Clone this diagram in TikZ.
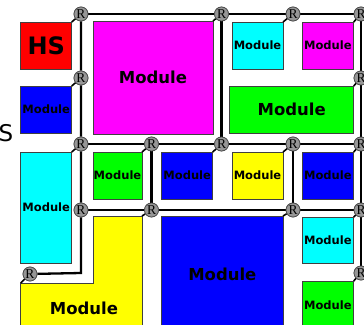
\documentclass[tikz,border=0pt]{standalone}
\usepackage{fontspec}
\setmainfont{DejaVu Sans}
\newfontfamily\routerfont{Liberation Serif}
\usepackage{xcolor}
\usepackage{tikz}

\definecolor{modred}{RGB}{255,0,0}
\definecolor{modblue}{RGB}{0,0,255}
\definecolor{modgreen}{RGB}{0,255,0}
\definecolor{modcyan}{RGB}{0,255,255}
\definecolor{modmagenta}{RGB}{255,0,255}
\definecolor{modyellow}{RGB}{255,255,0}
\definecolor{routergray}{RGB}{150,150,150}

\begin{document}
\begin{tikzpicture}[
    x=1pt, y=-1pt,
    module/.style={draw=black!75, line width=0.8pt, inner sep=0pt, outer sep=0pt, align=center, font=\fontsize{11.5}{12}\selectfont\bfseries},
    bigmodule/.style={module, font=\fontsize{16.5}{18}\selectfont\bfseries},
    router/.style={circle, draw=black!70, fill=routergray, line width=0.7pt, minimum size=14pt, inner sep=0pt, font=\routerfont\fontsize{13.5}{13.5}\selectfont},
    wire/.style={line width=2.3pt, black},
    stub/.style={line width=1.6pt, black}
]
\clip (0,0) rectangle (364,324);

% modules
\node[module, fill=modred, minimum width=51pt, minimum height=47pt, font=\fontsize{24}{26}\selectfont\bfseries] (hs) at (46.2,45.5) {HS};
\node[module, fill=modblue, minimum width=51pt, minimum height=47pt] (mleft) at (46.2,109.5) {Module};
\node[bigmodule, fill=modmagenta, minimum width=120pt, minimum height=113pt] (mbig) at (153,77.5) {Module};
\node[module, fill=modcyan, minimum width=51pt, minimum height=47pt] (mcyantop) at (257.5,45.5) {Module};
\node[module, fill=modmagenta, minimum width=51.7pt, minimum height=47pt] (mmagtop) at (327.85,45.5) {Module};
\node[bigmodule, fill=modgreen, minimum width=124pt, minimum height=47pt] (mwide) at (291.7,109.5) {Module};

\node[module, fill=modcyan, minimum width=51pt, minimum height=111pt] (mtall) at (46.2,207.5) {Module};
\node[module, fill=modgreen, minimum width=49pt, minimum height=47pt] (mgreen) at (117.5,175.5) {Module};
\node[module, fill=modblue, minimum width=51pt, minimum height=47pt] (mblue) at (187.2,175.5) {Module};
\node[module, fill=modyellow, minimum width=51pt, minimum height=47pt] (myellow) at (257.5,175.5) {Module};
\node[module, fill=modblue, minimum width=51.7pt, minimum height=47pt] (mblueright) at (327.85,175.5) {Module};

\draw[draw=black!75, line width=0.8pt, fill=modyellow] (93,216) -- (142,216) -- (142,334) -- (20.7,334) -- (20.7,283) -- (93,283) -- cycle;
\coordinate (lne) at (142,216);
\coordinate (lnw) at (20.7,283);
\node[bigmodule, draw=none] (mlshape) at (84,308) {Module};
\node[bigmodule, fill=modblue, minimum width=121.3pt, minimum height=116pt] (mbluebig) at (222.35,274) {Module};
\node[module, fill=modcyan, minimum width=51.7pt, minimum height=46.7pt] (mcyanlow) at (327.85,240.35) {Module};
\node[module, fill=modgreen, minimum width=51.7pt, minimum height=49pt] (mgreenlow) at (327.85,305.5) {Module};

\node[font=\fontsize{23}{24}\selectfont, anchor=east, inner sep=0pt] (side) at (13.5,133) {S};

% routers
\node[router] (ra1) at (81,14) {R};
\node[router] (ra2) at (221.5,14) {R};
\node[router] (ra3) at (293,14) {R};
\node[router] (ra4) at (361,14) {R};
\node[router] (rb1) at (81,78) {R};
\node[router] (rb4) at (361,78) {R};
\node[router] (rc1) at (81,144) {R};
\node[router] (rc2) at (151.5,144) {R};
\node[router] (rc3) at (221.5,144) {R};
\node[router] (rc4) at (293,144) {R};
\node[router] (rc5) at (361,144) {R};
\node[router] (rd1) at (81,210) {R};
\node[router] (rd2) at (151.5,210) {R};
\node[router] (rd3) at (293,210) {R};
\node[router] (rd4) at (361,210) {R};
\node[router] (re0) at (30,274) {R};
\node[router] (re4) at (361,273) {R};
\coordinate (ea) at (370,14);
\coordinate (ec) at (370,144);
\coordinate (ed) at (370,210);
\coordinate (bend) at (81,273);

% wires
\draw[wire] (ra1) -- (ra2) -- (ra3) -- (ra4) -- (ea);
\draw[wire] (ra1) -- (rb1) -- (rc1) -- (rd1) -- (bend) -- (re0);
\draw[wire] (rc1) -- (rc2) -- (rc3) -- (rc4) -- (rc5) -- (ec);
\draw[wire] (rd1) -- (rd2) -- (rd3) -- (rd4) -- (ed);
\draw[wire] (ra2) -- (rc3);
\draw[wire] (rc2) -- (rd2);
\draw[wire] (rc4) -- (rd3);
\draw[wire] (ra4) -- (rb4) -- (rc5) -- (rd4) -- (re4);

% module to router links
\draw[stub] (hs.north east) -- (ra1);
\draw[stub] (mleft.north east) -- (rb1);
\draw[stub] (mbig.north east) -- (ra2);
\draw[stub] (mcyantop.north east) -- (ra3);
\draw[stub] (mmagtop.north east) -- (ra4);
\draw[stub] (mwide.north east) -- (rb4);
\draw[stub] (mtall.north east) -- (rc1);
\draw[stub] (mgreen.north east) -- (rc2);
\draw[stub] (mblue.north east) -- (rc3);
\draw[stub] (myellow.north east) -- (rc4);
\draw[stub] (mblueright.north east) -- (rc5);
\draw[stub] (lne) -- (rd2);
\draw[stub] (lnw) -- (re0);
\draw[stub] (mbluebig.north east) -- (rd3);
\draw[stub] (mcyanlow.north east) -- (rd4);
\draw[stub] (mgreenlow.north east) -- (re4);

% routers again on top of the wires
\foreach \r in {ra1,ra2,ra3,ra4,rb1,rb4,rc1,rc2,rc3,rc4,rc5,rd1,rd2,rd3,rd4,re0,re4}
  \node[router] at (\r) {R};
\end{tikzpicture}
\end{document}
